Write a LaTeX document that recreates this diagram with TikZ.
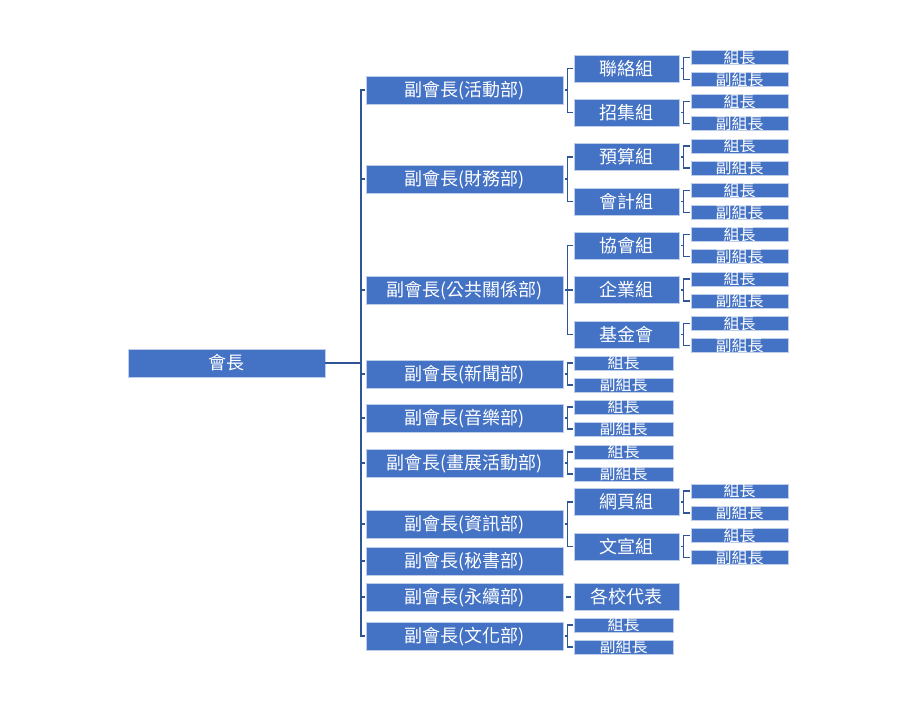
\documentclass[tikz,border=0pt]{standalone}
\usepackage{fontspec}
\setmainfont{Noto Sans CJK TC}
\definecolor{boxblue}{RGB}{68,114,196}
\definecolor{boxedge}{RGB}{190,206,234}
\definecolor{linkblue}{RGB}{47,85,151}
\tikzset{every picture/.style={line width=0.75pt}}
\tikzset{
  bigbox/.style={draw=boxedge,fill=boxblue,text=white,inner sep=0pt,
    minimum width=197,minimum height=28,text height=13.6pt,text depth=0pt,
    font=\fontsize{18}{18}\selectfont},
  midbox/.style={bigbox,minimum width=105,minimum height=27},
  tinybox/.style={draw=boxedge,fill=boxblue,text=white,inner sep=0pt,
    minimum width=97,minimum height=14,text height=11.6pt,text depth=0pt,
    font=\fontsize{16}{16}\selectfont},
  spineline/.style={draw=linkblue,line width=1.6pt},
  bracket/.style={draw=linkblue,line width=1.1pt}
}

\begin{document}
\begin{tikzpicture}[x=1pt,y=1pt,yscale=-1]
\useasboundingbox (0,0) rectangle (899,727);

%Shape: Rectangle (root)
\node [bigbox] (boss) at (226.5,363) {會長};

%Shape: Rectangle (vice presidents)
\node [bigbox] (act) at (464.5,90) {副會長(活動部)};
\node [bigbox] (fin) at (464.5,179) {副會長(財務部)};
\node [bigbox] (pr) at (464.5,290) {副會長(公共關係部)};
\node [bigbox] (news) at (464.5,374) {副會長(新聞部)};
\node [bigbox] (music) at (464.5,418) {副會長(音樂部)};
\node [bigbox] (art) at (464.5,463) {副會長(畫展活動部)};
\node [bigbox] (info) at (464.5,524) {副會長(資訊部)};
\node [bigbox] (sec) at (464.5,561) {副會長(秘書部)};
\node [bigbox] (sus) at (464.5,597) {副會長(永續部)};
\node [bigbox] (cul) at (464.5,636) {副會長(文化部)};

%Shape: Rectangle (groups)
\node [midbox] (liaison) at (626.5,68.5) {聯絡組};
\node [midbox] (recruit) at (626.5,112.5) {招集組};
\node [midbox] (budget) at (626.5,157) {預算組};
\node [midbox] (account) at (626.5,201.5) {會計組};
\node [midbox] (assoc) at (626.5,245.5) {協會組};
\node [midbox] (corp) at (626.5,290) {企業組};
\node [midbox] (fund) at (626.5,334.5) {基金會};
\node [midbox] (web) at (626.5,502) {網頁組};
\node [midbox] (promo) at (626.5,546.5) {文宣組};
\node [midbox] (rep) at (626.5,597) {各校代表};

%Shape: Rectangle (leaders under departments)
\node [tinybox,minimum width=99] (newsL) at (623.5,363) {組長};
\node [tinybox,minimum width=99] (newsD) at (623.5,385) {副組長};
\node [tinybox,minimum width=99] (musicL) at (623.5,407) {組長};
\node [tinybox,minimum width=99] (musicD) at (623.5,429) {副組長};
\node [tinybox,minimum width=99] (artL) at (623.5,452) {組長};
\node [tinybox,minimum width=99] (artD) at (623.5,474) {副組長};
\node [tinybox,minimum width=99] (culL) at (623.5,625) {組長};
\node [tinybox,minimum width=99] (culD) at (623.5,647) {副組長};

%Shape: Rectangle (leaders under groups)
\node [tinybox] (liaisonL) at (739.5,57.5) {組長};
\node [tinybox] (liaisonD) at (739.5,79.5) {副組長};
\node [tinybox] (recruitL) at (739.5,101.5) {組長};
\node [tinybox] (recruitD) at (739.5,123.5) {副組長};
\node [tinybox] (budgetL) at (739.5,146) {組長};
\node [tinybox] (budgetD) at (739.5,168) {副組長};
\node [tinybox] (accountL) at (739.5,190.5) {組長};
\node [tinybox] (accountD) at (739.5,212.5) {副組長};
\node [tinybox] (assocL) at (739.5,234.5) {組長};
\node [tinybox] (assocD) at (739.5,256.5) {副組長};
\node [tinybox] (corpL) at (739.5,279) {組長};
\node [tinybox] (corpD) at (739.5,301) {副組長};
\node [tinybox] (fundL) at (739.5,323.5) {組長};
\node [tinybox] (fundD) at (739.5,345.5) {副組長};
\node [tinybox] (webL) at (739.5,491) {組長};
\node [tinybox] (webD) at (739.5,513) {副組長};
\node [tinybox] (promoL) at (739.5,535.5) {組長};
\node [tinybox] (promoD) at (739.5,557.5) {副組長};

%Straight Lines (main spine)
\coordinate (spine) at ([xshift=-4.5pt]act.west);
\draw [spineline] (boss.east) -- (spine |- boss.east);
\draw [spineline] ([xshift=-1pt]act.west) -- (spine) |- ([xshift=-1pt]cul.west);
\draw [spineline] ([xshift=-1pt]fin.west) -- (spine |- fin.west);
\draw [spineline] ([xshift=-1pt]pr.west) -- (spine |- pr.west);
\draw [spineline] ([xshift=-1pt]news.west) -- (spine |- news.west);
\draw [spineline] ([xshift=-1pt]music.west) -- (spine |- music.west);
\draw [spineline] ([xshift=-1pt]art.west) -- (spine |- art.west);
\draw [spineline] ([xshift=-1pt]info.west) -- (spine |- info.west);
\draw [spineline] ([xshift=-1pt]sec.west) -- (spine |- sec.west);
\draw [spineline] ([xshift=-1pt]sus.west) -- (spine |- sus.west);

%Straight Lines (department brackets)
\draw [bracket] ([xshift=-1pt]liaison.west) -- ++(-5,0) |- ([xshift=-1pt]recruit.west);
\draw [bracket] ([xshift=2pt]act.east) -- ++(3,0);
\draw [bracket] ([xshift=-1pt]budget.west) -- ++(-5,0) |- ([xshift=-1pt]account.west);
\draw [bracket] ([xshift=2pt]fin.east) -- ++(3,0);
\draw [bracket] ([xshift=-1pt]assoc.west) -- ++(-5,0) |- ([xshift=-1pt]fund.west);
\draw [bracket] ([xshift=-1pt]corp.west) -- ++(-5,0);
\draw [bracket] ([xshift=2pt]pr.east) -- ++(3,0);
\draw [bracket] ([xshift=-1pt]newsL.west) -- ++(-5,0) |- ([xshift=-1pt]newsD.west);
\draw [bracket] ([xshift=2pt]news.east) -- ++(3,0);
\draw [bracket] ([xshift=-1pt]musicL.west) -- ++(-5,0) |- ([xshift=-1pt]musicD.west);
\draw [bracket] ([xshift=2pt]music.east) -- ++(3,0);
\draw [bracket] ([xshift=-1pt]artL.west) -- ++(-5,0) |- ([xshift=-1pt]artD.west);
\draw [bracket] ([xshift=2pt]art.east) -- ++(3,0);
\draw [bracket] ([xshift=-1pt]web.west) -- ++(-5,0) |- ([xshift=-1pt]promo.west);
\draw [bracket] ([xshift=2pt]info.east) -- ++(3,0);
\draw [bracket] ([xshift=3pt]sus.east) -- ([xshift=-3pt]rep.west);
\draw [bracket] ([xshift=-1pt]culL.west) -- ++(-5,0) |- ([xshift=-1pt]culD.west);
\draw [bracket] ([xshift=2pt]cul.east) -- ++(3,0);

%Straight Lines (group brackets)
\draw [bracket] ([xshift=-1pt]liaisonL.west) -- ++(-6,0) |- ([xshift=-1pt]liaisonD.west);
\draw [bracket] ([xshift=2pt]liaison.east) -- ++(3,0);
\draw [bracket] ([xshift=-1pt]recruitL.west) -- ++(-6,0) |- ([xshift=-1pt]recruitD.west);
\draw [bracket] ([xshift=2pt]recruit.east) -- ++(3,0);
\draw [bracket] ([xshift=-1pt]budgetL.west) -- ++(-6,0) |- ([xshift=-1pt]budgetD.west);
\draw [bracket] ([xshift=2pt]budget.east) -- ++(3,0);
\draw [bracket] ([xshift=-1pt]accountL.west) -- ++(-6,0) |- ([xshift=-1pt]accountD.west);
\draw [bracket] ([xshift=2pt]account.east) -- ++(3,0);
\draw [bracket] ([xshift=-1pt]assocL.west) -- ++(-6,0) |- ([xshift=-1pt]assocD.west);
\draw [bracket] ([xshift=2pt]assoc.east) -- ++(3,0);
\draw [bracket] ([xshift=-1pt]corpL.west) -- ++(-6,0) |- ([xshift=-1pt]corpD.west);
\draw [bracket] ([xshift=2pt]corp.east) -- ++(3,0);
\draw [bracket] ([xshift=-1pt]fundL.west) -- ++(-6,0) |- ([xshift=-1pt]fundD.west);
\draw [bracket] ([xshift=2pt]fund.east) -- ++(3,0);
\draw [bracket] ([xshift=-1pt]webL.west) -- ++(-6,0) |- ([xshift=-1pt]webD.west);
\draw [bracket] ([xshift=2pt]web.east) -- ++(3,0);
\draw [bracket] ([xshift=-1pt]promoL.west) -- ++(-6,0) |- ([xshift=-1pt]promoD.west);
\draw [bracket] ([xshift=2pt]promo.east) -- ++(3,0);
\end{tikzpicture}
\end{document}
